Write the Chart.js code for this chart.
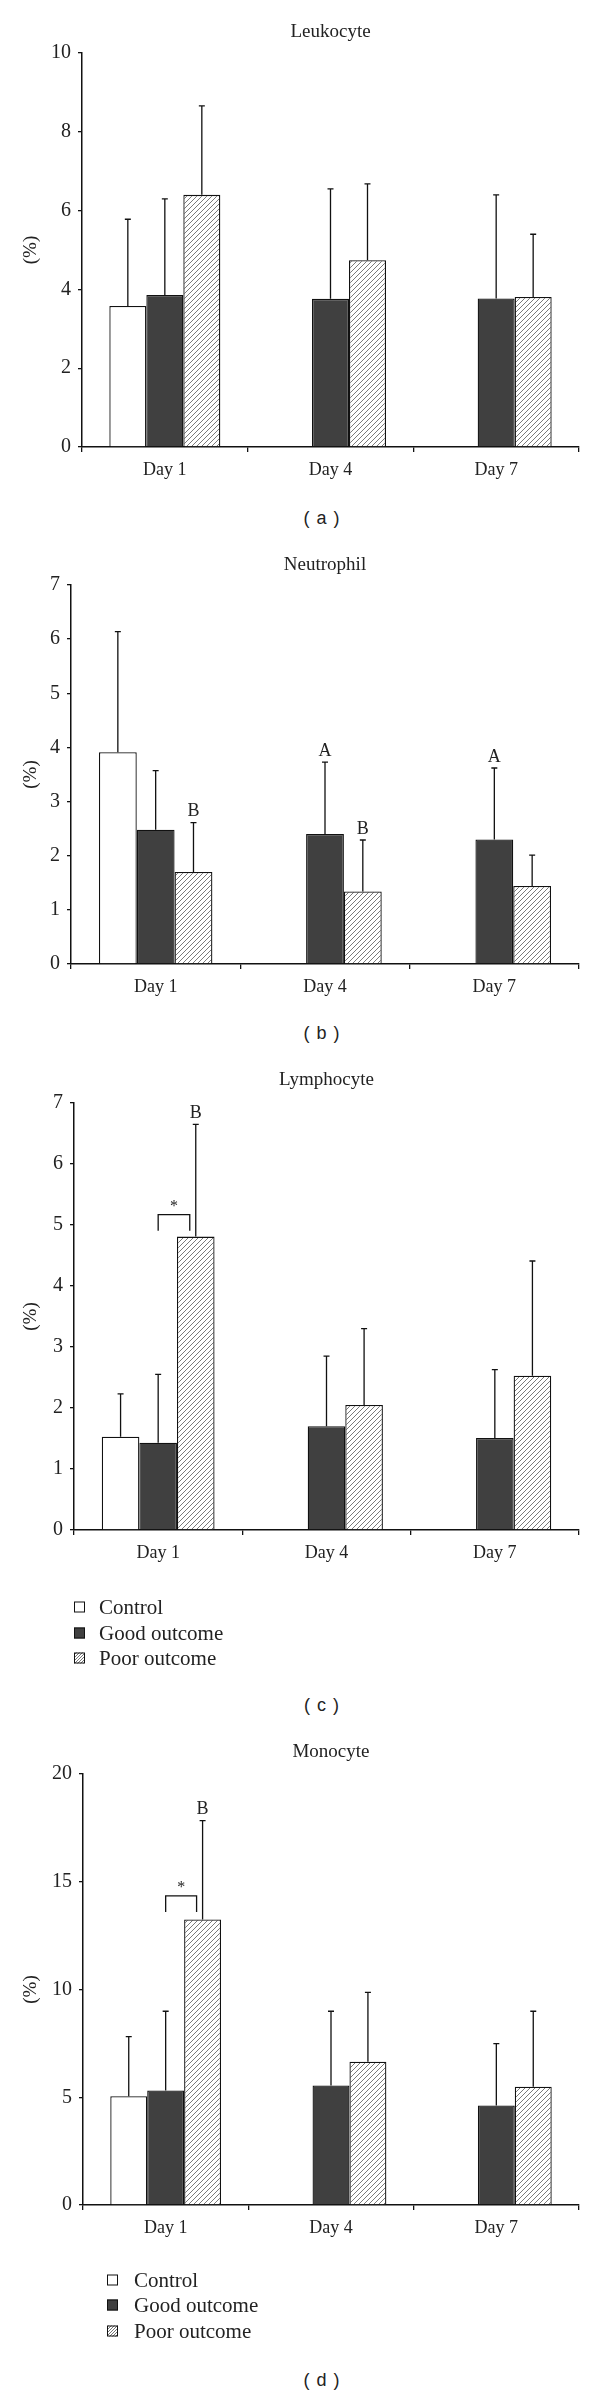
<!DOCTYPE html>
<html>
<head>
<meta charset="utf-8">
<script src="https://cdn.jsdelivr.net/npm/chart.js@4.4.0/dist/chart.umd.min.js"></script>
<style>
  body { margin: 0; background: #fff; }
  #page { position: relative; width: 600px; height: 2395px; overflow: hidden; }
  #page canvas { position: absolute; left: 0; }
  .cap {
    position: absolute; left: 272px; width: 100px; text-align: center;
    font-family: "Liberation Sans", Arial, sans-serif; font-size: 18px;
    letter-spacing: 1px; line-height: 20px; color: #222;
  }
</style>
</head>
<body>
<div id="page"></div>
<script>
const days = ['Day 1', 'Day 4', 'Day 7']
const groups = ['Control', 'Good outcome', 'Poor outcome']

// Leukocyte (a)
const leukoControl = [3.58, null, null]
const leukoControlSd = [2.20, null, null]
const leukoGood = [3.86, 3.76, 3.77]
const leukoGoodSd = [2.44, 2.79, 2.63]
const leukoPoor = [6.40, 4.74, 3.81]
const leukoPoorSd = [2.26, 1.94, 1.59]

// Neutrophil (b)
const neutroControl = [3.91, null, null]
const neutroControlSd = [2.23, null, null]
const neutroGood = [2.48, 2.40, 2.30]
const neutroGoodSd = [1.09, 1.33, 1.32]
const neutroPoor = [1.70, 1.34, 1.44]
const neutroPoorSd = [0.91, 0.95, 0.57]
const neutroGoodMarks = ['', 'A', 'A']
const neutroPoorMarks = ['B', 'B', '']

// Lymphocyte (c)
const lymphoControl = [1.53, null, null]
const lymphoControlSd = [0.70, null, null]
const lymphoGood = [1.43, 1.70, 1.51]
const lymphoGoodSd = [1.12, 1.15, 1.12]
const lymphoPoor = [4.81, 2.05, 2.53]
const lymphoPoorSd = [1.84, 1.25, 1.88]
const lymphoPoorMarks = ['B', '', '']

// Monocyte (d)
const monoControl = [5.05, null, null]
const monoControlSd = [2.76, null, null]
const monoGood = [5.31, 5.55, 4.62]
const monoGoodSd = [3.68, 3.44, 2.87]
const monoPoor = [13.25, 6.65, 5.49]
const monoPoorSd = [4.59, 3.22, 3.50]
const monoPoorMarks = ['B', '', '']

const serif = '"Liberation Serif", "Times New Roman", serif'
const page = document.getElementById('page')

// diagonal hatch used for the poor outcome bars
function hatch(size, color) {
  const c = document.createElement('canvas')
  c.width = size
  c.height = size
  const g = c.getContext('2d')
  g.fillStyle = '#fff'
  g.fillRect(0, 0, size, size)
  g.strokeStyle = color
  g.lineWidth = 1
  g.beginPath()
  g.moveTo(-1, size + 1); g.lineTo(size + 1, -1)
  g.moveTo(-1, 1); g.lineTo(1, -1)
  g.moveTo(size - 1, size + 1); g.lineTo(size + 1, size - 1)
  g.stroke()
  return g.createPattern(c, 'repeat')
}

const panels = [
  {
    title: 'Leukocyte', cap: '( a )', max: 10, step: 2,
    titleY: 32, plotTop: 53, plotBottom: 447, plotLeft: 82, capY: 518,
    series: [[leukoControl, leukoControlSd], [leukoGood, leukoGoodSd], [leukoPoor, leukoPoorSd]],
    marks: [null, null, null]
  },
  {
    title: 'Neutrophil', cap: '( b )', max: 7, step: 1,
    titleY: 565, plotTop: 585, plotBottom: 964, plotLeft: 71, capY: 1033,
    series: [[neutroControl, neutroControlSd], [neutroGood, neutroGoodSd], [neutroPoor, neutroPoorSd]],
    marks: [null, neutroGoodMarks, neutroPoorMarks]
  },
  {
    title: 'Lymphocyte', cap: '( c )', max: 7, step: 1,
    titleY: 1080, plotTop: 1103, plotBottom: 1530, plotLeft: 74, capY: 1705,
    series: [[lymphoControl, lymphoControlSd], [lymphoGood, lymphoGoodSd], [lymphoPoor, lymphoPoorSd]],
    marks: [null, null, lymphoPoorMarks],
    bracket: { y: 5.17, label: '*' },
    legend: { box: 74, text: 99, rows: [1607, 1633, 1658] }
  },
  {
    title: 'Monocyte', cap: '( d )', max: 20, step: 5,
    titleY: 1752, plotTop: 1774, plotBottom: 2205, plotLeft: 83, capY: 2380,
    series: [[monoControl, monoControlSd], [monoGood, monoGoodSd], [monoPoor, monoPoorSd]],
    marks: [null, null, monoPoorMarks],
    bracket: { y: 14.34, label: '*' },
    legend: { box: 107, text: 134, rows: [2280, 2305, 2331] }
  }
]

function extras(p, top, fills) {
  return {
    id: 'extras',
    afterDatasetsDraw(chart) {
      const ctx = chart.ctx
      const ys = chart.scales.y
      ctx.save()
      ctx.strokeStyle = '#111'
      ctx.lineWidth = 1.3
      ctx.fillStyle = '#222'
      ctx.textAlign = 'center'
      ctx.textBaseline = 'middle'
      ctx.font = '18px ' + serif
      // one sided error bars and letters
      chart.data.datasets.forEach((ds, di) => {
        const meta = chart.getDatasetMeta(di)
        meta.data.forEach((bar, i) => {
          const v = ds.data[i]
          if (v === null || v === undefined) return
          const yTop = ys.getPixelForValue(v + ds.sd[i])
          ctx.beginPath()
          ctx.moveTo(bar.x, bar.y)
          ctx.lineTo(bar.x, yTop)
          ctx.moveTo(bar.x - 3, yTop)
          ctx.lineTo(bar.x + 3, yTop)
          ctx.stroke()
          if (ds.marks && ds.marks[i]) ctx.fillText(ds.marks[i], bar.x, yTop - 11)
        })
      })
      // significance bracket between good and poor on day 1
      if (p.bracket) {
        const x1 = chart.getDatasetMeta(1).data[0].x
        const x2 = chart.getDatasetMeta(2).data[0].x - 6
        const yb = ys.getPixelForValue(p.bracket.y)
        ctx.beginPath()
        ctx.moveTo(x1, yb + 16)
        ctx.lineTo(x1, yb)
        ctx.lineTo(x2, yb)
        ctx.lineTo(x2, yb + 16)
        ctx.stroke()
        ctx.font = '16px ' + serif
        ctx.fillText(p.bracket.label, (x1 + x2) / 2, yb - 8)
      }
      // legend in three rows
      if (p.legend) {
        ctx.font = '21px ' + serif
        ctx.textAlign = 'left'
        p.legend.rows.forEach((ry, k) => {
          const y = ry - top
          ctx.fillStyle = fills[k]
          ctx.fillRect(p.legend.box, y - 5.5, 11, 11)
          ctx.lineWidth = 1
          ctx.strokeRect(p.legend.box + 0.5, y - 5, 10, 10)
          ctx.fillStyle = '#222'
          ctx.fillText(groups[k], p.legend.text, y + 1)
        })
      }
      ctx.restore()
    }
  }
}

panels.forEach(p => {
  const top = p.titleY - 14
  const extra = p.legend ? 100 : 0
  const height = p.plotBottom + 40 + extra - top
  const canvas = document.createElement('canvas')
  canvas.width = 600
  canvas.height = height
  canvas.style.top = top + 'px'
  page.appendChild(canvas)

  const cap = document.createElement('div')
  cap.className = 'cap'
  cap.style.top = (p.capY - 10) + 'px'
  cap.textContent = p.cap
  page.appendChild(cap)

  const pattern = hatch(5, '#7a7a7a')
  const legendPattern = hatch(3, '#777')
  const fills = ['#ffffff', '#404040', pattern]

  const datasets = p.series.map((s, k) => ({
    label: groups[k],
    data: s[0],
    sd: s[1],
    marks: p.marks[k],
    backgroundColor: fills[k],
    borderColor: '#111',
    borderWidth: 1.3,
    borderSkipped: 'start'
  }))

  new Chart(canvas, {
    type: 'bar',
    data: { labels: days, datasets: datasets },
    options: {
      responsive: false,
      animation: false,
      events: [],
      categoryPercentage: 0.67,
      barPercentage: 1.0,
      layout: { padding: { top: 14 - 11.4, right: 21, bottom: extra, left: 0 } },
      plugins: {
        legend: { display: false },
        tooltip: { enabled: false },
        title: {
          display: true,
          text: p.title,
          fullSize: false,
          color: '#222',
          font: { family: serif, size: 19, weight: 'normal', lineHeight: 1.2 },
          padding: { top: 0, bottom: p.plotTop - p.titleY - 11.4 }
        }
      },
      scales: {
        x: {
          afterFit: s => { s.height = 40 },
          grid: { display: true, drawOnChartArea: false, drawTicks: true, tickLength: 5, color: '#111', lineWidth: 1.3 },
          border: { display: true, color: '#111', width: 1.5 },
          ticks: { color: '#222', padding: 7, font: { family: serif, size: 18 } }
        },
        y: {
          min: 0,
          max: p.max,
          afterFit: s => { s.width = p.plotLeft },
          grid: { display: true, drawOnChartArea: false, drawTicks: true, tickLength: 4, color: '#111', lineWidth: 1.3 },
          border: { display: true, color: '#111', width: 1.5 },
          ticks: { stepSize: p.step, color: '#222', padding: 7, font: { family: serif, size: 20 } },
          title: {
            display: true,
            text: '(%)',
            color: '#222',
            font: { family: serif, size: 19, lineHeight: 1.2 },
            padding: { top: 20, bottom: 0 }
          }
        }
      }
    },
    plugins: [extras(p, top, ['#ffffff', '#404040', legendPattern])]
  })
})
</script>
</body>
</html>
